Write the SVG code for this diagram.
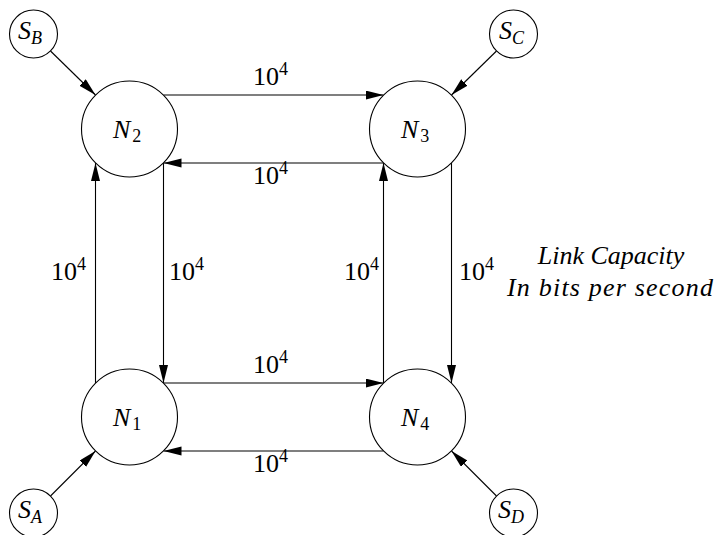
<svg xmlns="http://www.w3.org/2000/svg" width="716" height="535" viewBox="0 0 716 535">
<style>
.n{fill:#fff;stroke:#000;stroke-width:1.1}
.e{stroke:#000;stroke-width:1.1;fill:none;marker-end:url(#ah)}
.t{font-family:"Liberation Serif","Times New Roman",serif;font-size:26px;fill:#000}
.i{font-style:italic}
.sub{font-size:18px}
</style>
<defs>
<marker id="ah" markerUnits="userSpaceOnUse" markerWidth="19" markerHeight="10" refX="18" refY="4.5" orient="auto" viewBox="0 0 19 10">
<path d="M0,0 L18,4.5 L0,9 z" fill="#000"/>
</marker>
</defs>
<rect width="716" height="535" fill="#fff"/>
<g id="connectors">
<line class="e" x1="163.5" y1="95" x2="383.5" y2="95"/>
<line class="e" x1="383.5" y1="163" x2="163.5" y2="163"/>
<line class="e" x1="163.5" y1="163" x2="163.5" y2="383"/>
<line class="e" x1="95.5" y1="383" x2="95.5" y2="163"/>
<line class="e" x1="451.5" y1="163" x2="451.5" y2="383"/>
<line class="e" x1="383.5" y1="383" x2="383.5" y2="163"/>
<line class="e" x1="163.5" y1="383" x2="383.5" y2="383"/>
<line class="e" x1="383.5" y1="451" x2="163.5" y2="451"/>
<line class="e" x1="50.5" y1="51" x2="95.5" y2="95"/>
<line class="e" x1="496.5" y1="51" x2="451.5" y2="95"/>
<line class="e" x1="50.5" y1="496" x2="95.5" y2="451"/>
<line class="e" x1="496.5" y1="496" x2="451.5" y2="451"/>
</g>
<g id="labels" class="t">
<text x="253" y="85">10<tspan class="sub" dy="-10">4</tspan></text>
<text x="253" y="184">10<tspan class="sub" dy="-10">4</tspan></text>
<text x="253" y="373">10<tspan class="sub" dy="-10">4</tspan></text>
<text x="253" y="472">10<tspan class="sub" dy="-10">4</tspan></text>
<text x="51" y="280">10<tspan class="sub" dy="-10">4</tspan></text>
<text x="169" y="280">10<tspan class="sub" dy="-10">4</tspan></text>
<text x="344" y="280">10<tspan class="sub" dy="-10">4</tspan></text>
<text x="459" y="280">10<tspan class="sub" dy="-10">4</tspan></text>
<text class="i" x="611" y="264" text-anchor="middle">Link Capacity</text>
<text class="i" x="610" y="296" text-anchor="middle" textLength="206" lengthAdjust="spacing">In bits per second</text>
</g>
<g id="N2"><circle class="n" cx="129.5" cy="129" r="48"/><text class="t" x="113" y="138"><tspan class="i">N</tspan><tspan class="sub" dx="2" dy="4">2</tspan></text></g>
<g id="N3"><circle class="n" cx="417.5" cy="129" r="48"/><text class="t" x="401" y="138"><tspan class="i">N</tspan><tspan class="sub" dx="2" dy="4">3</tspan></text></g>
<g id="N1"><circle class="n" cx="129.5" cy="417" r="48"/><text class="t" x="113" y="426"><tspan class="i">N</tspan><tspan class="sub" dx="2" dy="4">1</tspan></text></g>
<g id="N4"><circle class="n" cx="417.5" cy="417" r="48"/><text class="t" x="401" y="426"><tspan class="i">N</tspan><tspan class="sub" dx="2" dy="4">4</tspan></text></g>
<g id="SB"><circle class="n" cx="33.5" cy="34" r="24"/><text class="t i" x="18" y="39">S<tspan class="sub" dy="5">B</tspan></text></g>
<g id="SC"><circle class="n" cx="513.5" cy="34" r="24"/><text class="t i" x="499" y="39">S<tspan class="sub" dy="5">C</tspan></text></g>
<g id="SA"><circle class="n" cx="33.5" cy="513" r="24"/><text class="t i" x="18" y="518">S<tspan class="sub" dy="5">A</tspan></text></g>
<g id="SD"><circle class="n" cx="513.5" cy="513" r="24"/><text class="t i" x="498" y="518">S<tspan class="sub" dy="5">D</tspan></text></g>
</svg>
